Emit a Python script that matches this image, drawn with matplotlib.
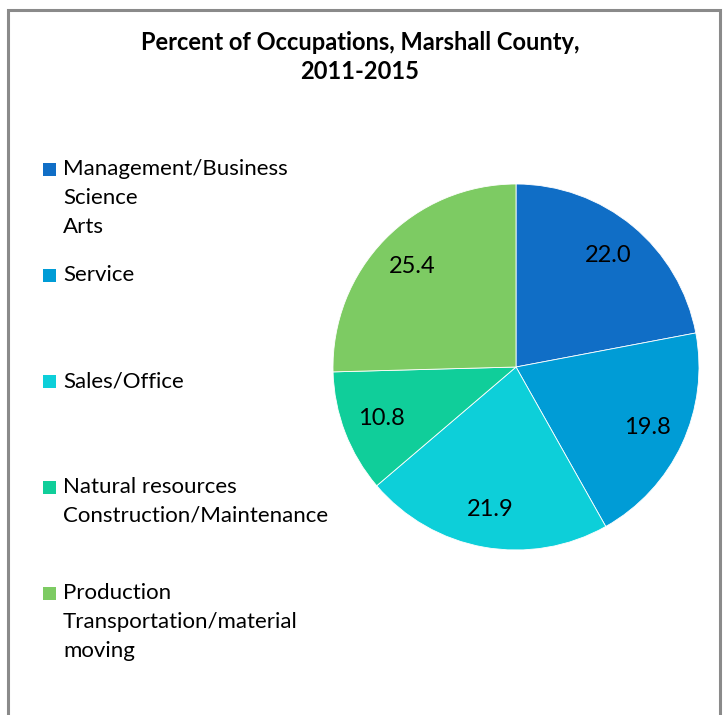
import matplotlib.pyplot as plt
from matplotlib.patches import Rectangle

# data
categories = ['Management/Business\nScience\nArts',
              'Service',
              'Sales/Office',
              'Natural resources\nConstruction/Maintenance',
              'Production\nTransportation/material\nmoving']
values = [22.0, 19.8, 21.9, 10.8, 25.4]
colors = ['#106ec6', '#009cd6', '#0dcfd9', '#10ce9a', '#7dcb63']
title = 'Percent of Occupations, Marshall County,\n2011-2015'

plt.rcParams['font.family'] = ['Lato', 'DejaVu Sans']

W, H = 723, 715
fig = plt.figure(figsize=(W / 100, H / 100), dpi=100)

# outer frame (bottom edge runs off the picture)
fig.patches.append(Rectangle((8 / W, -0.05), (720 - 8) / W, 1.05 - 10 / H,
                             transform=fig.transFigure, fill=False,
                             edgecolor='#8a8a8a', linewidth=2.2))

fig.text(360 / W, 1 - 57 / H, title, ha='center', va='center',
         fontsize=17, fontweight='bold', linespacing=1.3)

# pie
cx, cy, r = 516, 367, 183
ax = fig.add_axes([(cx - r) / W, 1 - (cy + r) / H, 2 * r / W, 2 * r / H])
wedges, texts, autotexts = ax.pie(values, colors=colors, startangle=90,
                                  counterclock=False, autopct='%.1f',
                                  pctdistance=0.79,
                                  wedgeprops=dict(edgecolor='white', linewidth=0.6),
                                  textprops=dict(fontsize=17, color='black'))
ax.set_xlim(-1, 1)
ax.set_ylim(-1, 1)
ax.set_aspect('equal')
ax.axis('off')

# legend drawn by hand so the entries keep an even step
y0, step, line_h = 169, 106, 29
for i, (lab, col) in enumerate(zip(categories, colors)):
    y = y0 + i * step
    fig.patches.append(Rectangle((43 / W, 1 - (y + 7) / H), 13 / W, 13 / H,
                                 transform=fig.transFigure, facecolor=col,
                                 edgecolor='none'))
    for j, line in enumerate(lab.split('\n')):
        fig.text(63 / W, 1 - (y + j * line_h) / H, line, ha='left',
                 va='center', fontsize=16, color='black')

fig.savefig('out.png', dpi=100)
